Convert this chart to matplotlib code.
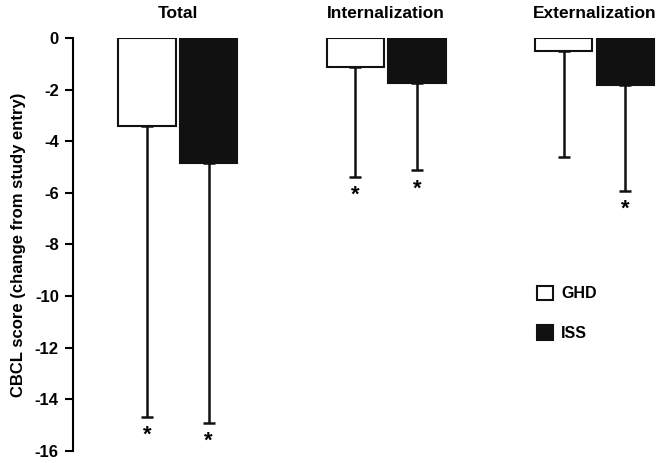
import matplotlib.pyplot as plt
import numpy as np
from matplotlib.patches import Patch

plt.rcParams['font.family'] = ['Liberation Sans', 'DejaVu Sans']
plt.rcParams['font.weight'] = 'bold'
plt.rcParams['axes.unicode_minus'] = False

# Data
groups = ['Total', 'Internalization', 'Externalization']
ghd_mean = [-3.41, -1.11, -0.50]
ghd_err = [11.27, 4.26, 4.12]
iss_mean = [-4.84, -1.73, -1.81]
iss_err = [10.06, 3.39, 4.11]
ghd_sig = [True, True, False]
iss_sig = [True, True, True]

fig = plt.figure(figsize=(6.61, 4.63), dpi=100)
ax = fig.add_axes([0.110, 0.026, 0.89, 0.892])

x = np.arange(len(groups))
w = 0.275
off = 0.148

ax.bar(x - off, ghd_mean, w, color='white', edgecolor='#111111', linewidth=1.5, zorder=3)
ax.bar(x + off, iss_mean, w, color='#111111', edgecolor='#111111', linewidth=1.5, zorder=3)

# one-sided (downward) error bars
ax.errorbar(x - off, ghd_mean, yerr=[ghd_err, np.zeros(3)], fmt='none',
            ecolor='#111111', elinewidth=1.8, capsize=4, capthick=1.8, zorder=2)
ax.errorbar(x + off, iss_mean, yerr=[iss_err, np.zeros(3)], fmt='none',
            ecolor='#111111', elinewidth=1.8, capsize=4, capthick=1.8, zorder=2)

for i in range(len(groups)):
    if ghd_sig[i]:
        ax.annotate('*', (x[i] - off, ghd_mean[i] - ghd_err[i]), xytext=(0, -21),
                    textcoords='offset points', ha='center', va='bottom', fontsize=16)
    if iss_sig[i]:
        ax.annotate('*', (x[i] + off, iss_mean[i] - iss_err[i]), xytext=(0, -21),
                    textcoords='offset points', ha='center', va='bottom', fontsize=16)
    ax.text(x[i], 0.93, groups[i], ha='center', va='center', fontsize=12.5, fontweight='bold')

ax.set_xlim(-0.505, 2.32)
ax.set_ylim(-16, 0)
ax.set_yticks(np.arange(-16, 1, 2))
ax.tick_params(axis='y', direction='out', length=6, width=1.5, labelsize=12, pad=4)
ax.set_xticks([])
for s in ['top', 'right', 'bottom']:
    ax.spines[s].set_visible(False)
ax.spines['left'].set_linewidth(1.5)
ax.set_ylabel('CBCL score (change from study entry)', fontsize=12, fontweight='bold', labelpad=6)

handles = [Patch(facecolor='white', edgecolor='#111111', linewidth=1.5, label='GHD'),
           Patch(facecolor='#111111', edgecolor='#111111', linewidth=1.5, label='ISS')]
ax.legend(handles=handles, loc='upper left', bbox_to_anchor=(0.765, 0.435), frameon=False,
          handlelength=1.0, handleheight=1.0, labelspacing=1.5, handletextpad=0.5,
          prop={'weight': 'bold', 'size': 11.5})

fig.savefig('out.png', dpi=100)
